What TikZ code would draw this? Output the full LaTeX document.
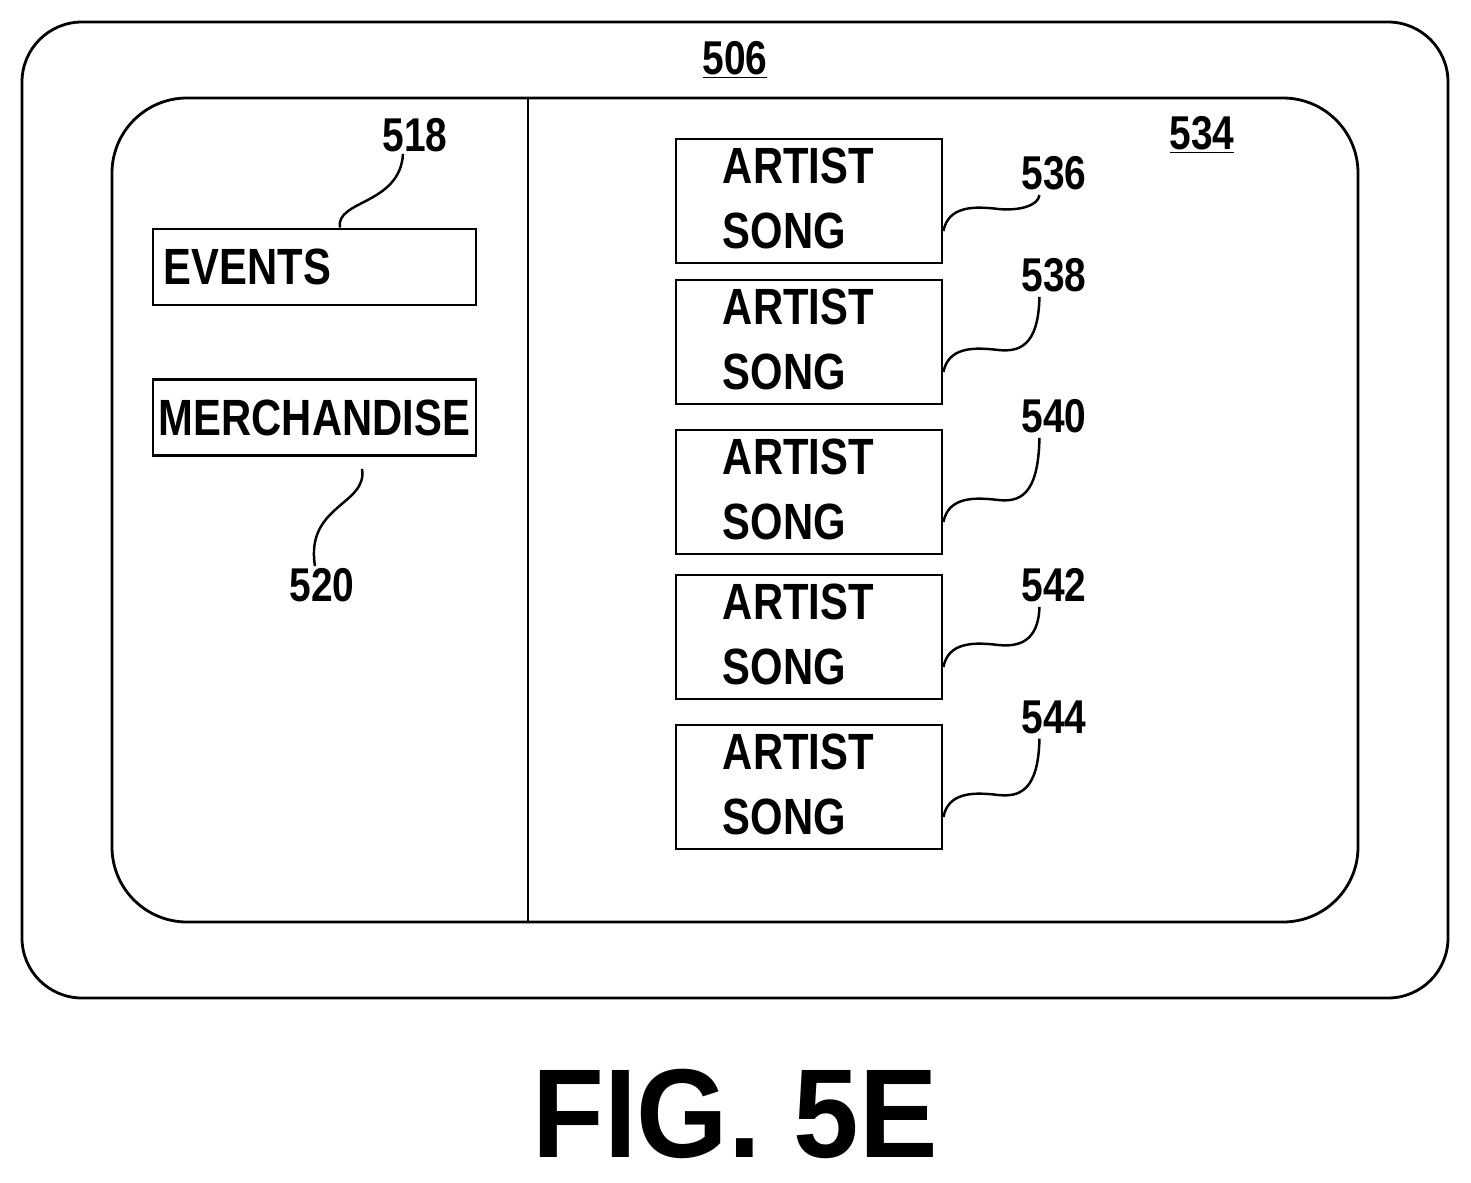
\documentclass[tikz,border=0pt]{standalone}
\usepackage{fontspec}
\setmainfont{Liberation Sans}[FakeStretch=0.82]
\newfontfamily\figfont{Liberation Sans}[FakeStretch=0.93]
\usetikzlibrary{positioning, calc}
\tikzset{
    frame/.style={draw, line width=1.6pt},
    item/.style={draw, line width=1.6pt, minimum width=323*0.02cm, minimum height=76*0.02cm, inner sep=0pt},
    song/.style={draw, line width=1.6pt, minimum width=266*0.02cm, minimum height=124*0.02cm, inner sep=0pt},
    num/.style={font=\fontsize{27}{30}\selectfont\bfseries, inner sep=1pt},
    txt/.style={font=\fontsize{29}{34}\selectfont\bfseries},
    lead/.style={line width=1.4pt}
}
\begin{document}
\begin{tikzpicture}[x=0.02cm, y=-0.02cm]
    \useasboundingbox (0,0) rectangle (1471,1183);
    % device and screen
    \draw[frame, rounded corners=60*0.02cm] (22,22) rectangle (1448,998);
    \draw[frame, rounded corners=75*0.02cm] (112,98) rectangle (1358,922);
    \draw[frame] (528,98) -- (528,922);
    \node[num] (n506) at (735,60) {\underline{506}};
    \node[num] (n534) at (1202,135) {\underline{534}};

    % left panel
    \node[item] (events) at (314.5,267) {};
    \node[txt, anchor=west, inner sep=0pt] at ([xshift=12*0.02cm]events.west) {EVENTS};
    \node[item] (merch) at (314.5,417.5) {};
    \node[txt] at (merch) {MERCHANDISE};
    \node[num] (n518) at (415,135) {518};
    \node[num] (n520) at (322,585) {520};
    \draw[lead] (events.north -| 340,0) .. controls (335,200) and (400,205) .. (n518.south -| 403,0);
    \draw[lead] (merch.south -| 362,0) ++(0,12) .. controls (368,505) and (305,505) .. (n520.north -| 315,0);

    % right panel
    \foreach \y/\n in {201/536, 342/538, 492/540, 637/542, 787/544} {
        \node[song] (s\n) at (809,\y) {};
        \node[txt, anchor=north west, align=left, inner sep=0pt] at ($(s\n.north west)+(48,10)$) {ARTIST\\[3pt]SONG};
    }
    \foreach \n/\ly in {536/173, 538/275, 540/416, 542/585, 544/717} {
        \node[num] (n\n) at (1054,\ly) {\n};
        \draw[lead] ($(s\n.east)+(0,30)$) .. controls ($(s\n.east)+(5,5)$) and ($(s\n.east)+(30,5)$) .. ($(s\n.east)+(55,8)$)
            .. controls ($(s\n.east)+(75,10)$) and ($(s\n.east)+(95,5)$) .. ($(n\n.south west)+(20,3)$);
    }

    \node[font=\figfont\fontsize{72}{78}\selectfont\bfseries] (fig) at (735,1114) {FIG. 5E};
\end{tikzpicture}
\end{document}
